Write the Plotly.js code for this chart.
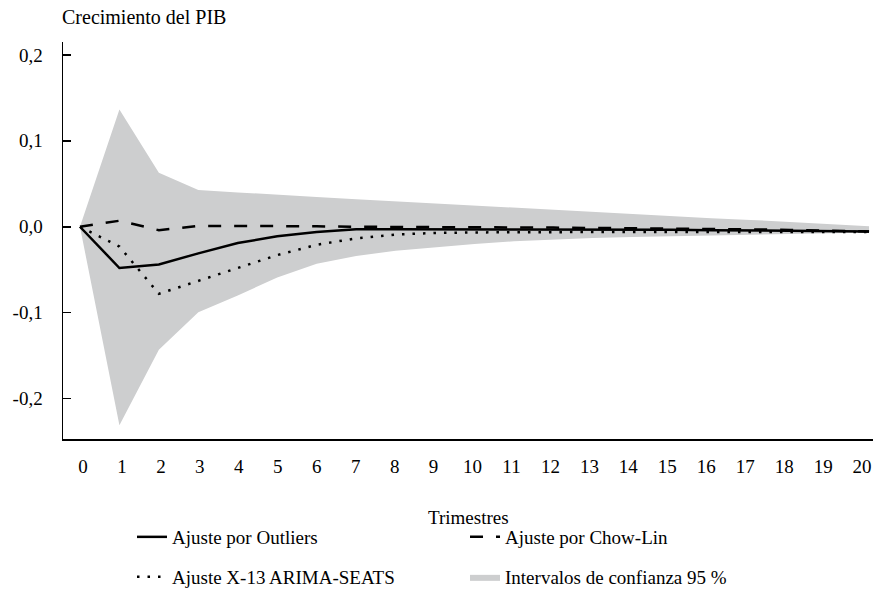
<!DOCTYPE html>
<html>
<head>
<meta charset="utf-8">
<script src="https://cdn.plot.ly/plotly-3.0.1.min.js"></script>
<style>html,body{margin:0;padding:0;background:#fff;}#chart{width:878px;height:589px;}</style>
</head>
<body>
<div id="chart"></div>
<script>
const trimestres = [0,1,2,3,4,5,6,7,8,9,10,11,12,13,14,15,16,17,18,19,20];
const tickLabelsX = ["0","1","2","3","4","5","6","7","8","9","10","11","12","13","14","15","16","17","18","19","20"];
const tickValsY = [-0.2,-0.1,0,0.1,0.2];
const tickLabelsY = ["-0,2","-0,1","0,0","0,1","0,2"];

const bandaSuperior = [0,0.1365,0.0628,0.0427,0.040,0.037,0.0345,0.032,0.0295,0.027,0.0245,0.022,0.0195,0.017,0.0148,0.0125,0.010,0.008,0.0055,0.003,0.0005];
const bandaInferior = [0,-0.231,-0.143,-0.0996,-0.080,-0.059,-0.043,-0.034,-0.028,-0.024,-0.020,-0.017,-0.015,-0.013,-0.012,-0.011,-0.010,-0.009,-0.008,-0.0075,-0.007];
const ajusteOutliers = [0,-0.048,-0.044,-0.031,-0.019,-0.011,-0.006,-0.003,-0.003,-0.003,-0.003,-0.003,-0.003,-0.0032,-0.0034,-0.0036,-0.004,-0.0042,-0.0046,-0.005,-0.0055];
const ajusteChowLin = [0,0.007,-0.004,0.001,0.001,0.001,0.0005,0,0,-0.0003,-0.0005,-0.0008,-0.001,-0.0013,-0.0017,-0.002,-0.0025,-0.003,-0.0037,-0.0045,-0.0055];
const ajusteX13 = [0,-0.023,-0.078,-0.063,-0.048,-0.033,-0.021,-0.0135,-0.009,-0.0072,-0.0066,-0.0063,-0.0062,-0.0061,-0.006,-0.006,-0.006,-0.006,-0.006,-0.006,-0.006];

const nombres = {
  outliers: "Ajuste por Outliers",
  chow: "Ajuste por Chow-Lin",
  x13: "Ajuste X-13 ARIMA-SEATS",
  banda: "Intervalos de confianza 95 %"
};
const tituloX = "Trimestres";

const FONT = "Liberation Serif, Times New Roman, serif";
const GRIS = "#cdcecf";

const traces = [
  {x: trimestres, y: bandaInferior, mode: "lines", line: {width: 0, color: GRIS}, showlegend: false, hoverinfo: "skip"},
  {x: trimestres, y: bandaSuperior, mode: "lines", fill: "tonexty", fillcolor: GRIS, line: {width: 0, color: GRIS},
   name: nombres.banda, legend: "legend2", legendrank: 2},
  {x: trimestres, y: ajusteOutliers, mode: "lines", line: {color: "#000", width: 2.5}, name: nombres.outliers, legend: "legend", legendrank: 1},
  {x: trimestres, y: ajusteChowLin, mode: "lines", line: {color: "#000", width: 2.5, dash: "13px,13px"}, name: nombres.chow, legend: "legend", legendrank: 2},
  {x: trimestres, y: ajusteX13, mode: "lines", line: {color: "#000", width: 2.5, dash: "2.5px,8px"}, name: nombres.x13, legend: "legend2", legendrank: 1},
  // invisible carrier for the category tick labels on the overlaying axis
  {x: trimestres, y: trimestres.map(() => null), xaxis: "x2", mode: "lines", showlegend: false, hoverinfo: "skip"}
];

const legendCommon = {
  orientation: "h", xref: "paper", yref: "container", xanchor: "left", yanchor: "middle",
  x: 0.0852, entrywidth: 288, entrywidthmode: "pixels",
  font: {family: FONT, size: 19, color: "#000"}, bgcolor: "rgba(0,0,0,0)", borderwidth: 0,
  traceorder: "normal", itemclick: false
};

const layout = {
  width: 878, height: 589,
  margin: {l: 63, r: 5, t: 42, b: 150},
  paper_bgcolor: "#fff", plot_bgcolor: "#fff",
  font: {family: FONT, size: 19, color: "#000"},
  separators: ",.",
  title: {text: "Crecimiento del PIB", x: 62/878, xref: "container", xanchor: "left", y: 1 - 17/589, yref: "container", yanchor: "middle",
          font: {family: FONT, size: 20, color: "#000"}},
  xaxis: {
    range: [-0.43, 20.1],
    showgrid: false, zeroline: false, showline: true, linecolor: "#000", linewidth: 1.5,
    ticks: "", showticklabels: false
  },
  xaxis2: {
    overlaying: "x", anchor: "y", side: "bottom",
    range: [-0.5135, 20.28], tickvals: trimestres, ticktext: tickLabelsX,
    showgrid: false, zeroline: false, showline: false,
    ticks: "", ticklabelstandoff: 14, tickfont: {family: FONT, size: 19}
  },
  yaxis: {
    range: [-0.247, 0.215], tickvals: tickValsY, ticktext: tickLabelsY,
    showgrid: false, zeroline: false, showline: true, linecolor: "#000", linewidth: 1.5,
    ticks: "inside", ticklen: 8, tickwidth: 1.5, tickcolor: "#000",
    ticklabelstandoff: 15, tickfont: {family: FONT, size: 19}
  },
  annotations: [
    {text: tituloX, xref: "paper", x: 0.5, xanchor: "center", yref: "paper", y: -78/397, yanchor: "middle",
     showarrow: false, font: {family: FONT, size: 19, color: "#000"}}
  ],
  legend: Object.assign({}, legendCommon, {y: 1 - 537/589}),
  legend2: Object.assign({}, legendCommon, {y: 1 - 577/589}),
  showlegend: true
};

Plotly.newPlot("chart", traces, layout, {displayModeBar: false, staticPlot: true});
</script>
</body>
</html>
